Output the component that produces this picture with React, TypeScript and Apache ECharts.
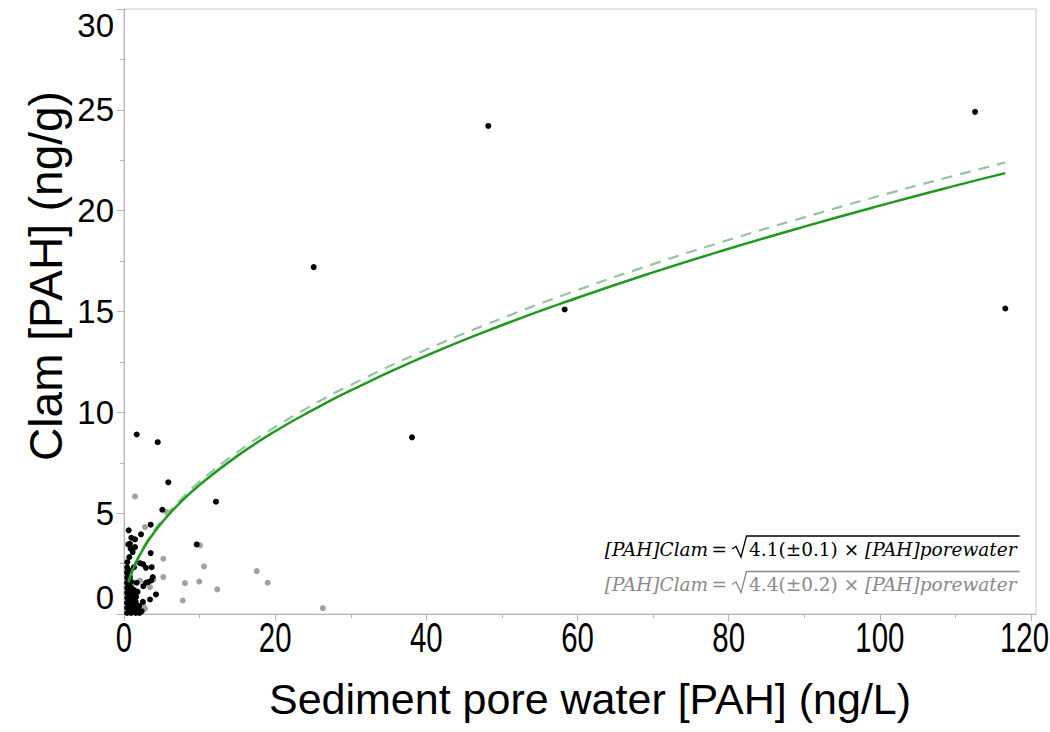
import React, { useEffect, useRef } from "react";
import * as echarts from "echarts";

const xTickValues = [0, 20, 40, 60, 80, 100, 120];
const yTickValues = [0, 5, 10, 15, 20, 25, 30];

const xTitle = "Sediment pore water [PAH] (ng/L)";
const yTitle = "Clam [PAH] (ng/g)";

// black points (x: pore water, y: clam)
const blackPoints: [number, number][] = [
  [112.6, 24.9], [48.2, 24.2], [25.1, 17.2], [58.3, 15.1], [116.6, 15.15], [38.1, 8.76],
  [1.68, 8.9], [4.46, 8.52], [5.86, 6.53], [12.17, 5.57], [5.07, 5.17], [0.62, 4.15],
  [3.53, 4.43], [2.25, 3.95], [0.97, 3.78], [1.46, 3.7], [0.57, 3.45], [0.88, 3.24],
  [1.15, 3.07], [0.7, 2.82], [3.53, 3.02], [9.62, 3.45], [0.44, 2.57], [1.32, 2.32],
  [2.12, 2.52], [2.55, 2.46], [2.91, 2.29], [3.66, 2.32], [0.79, 1.83], [3.8, 1.83],
  [1.68, 1.55], [2.55, 1.38], [2.91, 1.55], [4.23, 0.97], [3.44, 0.72], [1.89, 0.26],
  [2.34, 0.14], [3.6, 1.66], [3.2, 1.58], [0.79, 3.48], [1.46, 3.32],
  [0.4, 0.05], [0.42, 0.3], [0.4, 0.55], [0.43, 0.8], [0.4, 1.05], [0.42, 1.3], [0.4, 1.55],
  [0.43, 1.8], [0.4, 2.05], [0.42, 2.3], [0.65, 0.15], [0.68, 0.4], [0.65, 0.65], [0.7, 0.9],
  [0.66, 1.15], [0.7, 1.4], [0.65, 1.65], [0.68, 1.9], [0.66, 2.15], [0.95, 0.05], [0.98, 0.3],
  [0.95, 0.55], [1.0, 0.8], [0.96, 1.05], [0.98, 1.3], [0.95, 1.6], [1.25, 0.15], [1.28, 0.4],
  [1.24, 0.65], [1.3, 0.95], [1.25, 1.2], [1.55, 0.05], [1.58, 0.3], [1.55, 0.6], [1.6, 0.85],
  [2.0, 0.4], [2.5, 0.6], [2.05, 0.05], [1.8, 1.1],
];

// grey points
const greyPoints: [number, number][] = [
  [1.46, 5.83], [2.78, 4.31], [5.2, 2.74], [10.58, 2.36], [5.2, 1.83], [3.88, 1.7],
  [8.07, 1.53], [9.96, 1.61], [12.34, 1.22], [7.77, 0.67], [17.56, 2.13], [19.01, 1.55],
  [2.78, 0.26], [3.44, 1.33], [1.46, 1.0], [1.15, 1.17], [2.12, 1.66], [26.3, 0.29],
  [10.05, 3.4], [5.64, 5.05], [1.0, 1.25], [1.55, 1.17], [2.55, 0.42], [1.2, 1.55],
];

// fitted curves
const fitX = [0.6, 1, 1.5, 2, 3, 4, 5, 7.5, 10, 15, 20, 25, 30, 40, 50, 60, 70, 80, 90, 100, 110, 116.6];
const fitSolidY = [1.57, 2.02, 2.48, 2.86, 3.51, 4.05, 4.53, 5.55, 6.4, 7.84, 9.06, 10.12, 11.09, 12.81, 14.32, 15.68, 16.94, 18.11, 19.21, 20.25, 21.24, 21.86];
const fitDashedY = [1.61, 2.07, 2.54, 2.93, 3.59, 4.15, 4.64, 5.68, 6.56, 8.03, 9.27, 10.37, 11.36, 13.11, 14.66, 16.06, 17.35, 18.55, 19.67, 20.74, 21.75, 22.39];

const eqLeft = "[PAH]Clam";
const eqRadicands = ["4.1(\u00B10.1) \u00D7 ", "4.4(\u00B10.2) \u00D7 "];
const eqRight = "[PAH]porewater";

const SERIF = "'DejaVu Serif', 'Liberation Serif', serif";
const SANS = "'Liberation Sans', Arial, sans-serif";

function measure(text: string, font: string): number {
  const c = document.createElement("canvas");
  const ctx = c.getContext("2d");
  if (!ctx) return text.length * 10;
  ctx.font = font;
  return ctx.measureText(text).width;
}

export default function App() {
  const ref = useRef<HTMLDivElement>(null);
  useEffect(() => {
    if (!ref.current) return;
    const chart = echarts.init(ref.current, undefined, { renderer: "svg" });
    const axisGrey = "#b4b4b4";
    const fs = 18.5;
    const eqColors = ["#000000", "#8a8a8a"];
    const eqY = [549, 584.5];

    const option: any = {
      animation: false,
      backgroundColor: "#ffffff",
      grid: { left: 124, right: 14, top: 9, bottom: 118, show: true, borderColor: "#c8c8c8", borderWidth: 1, outerBoundsMode: "none", containLabel: false },
      xAxis: {
        type: "value",
        min: 0,
        max: 120.66,
        interval: 20,
        splitLine: { show: false },
        axisLine: { show: true, onZero: false, lineStyle: { color: axisGrey, width: 1 } },
        axisTick: { show: true, length: 7, customValues: xTickValues, lineStyle: { color: axisGrey } },
        minorTick: { show: true, splitNumber: 2, length: 4, lineStyle: { color: axisGrey } },
        axisLabel: { show: false },
      },
      yAxis: {
        type: "value",
        min: 0,
        max: 30,
        interval: 5,
        splitLine: { show: false },
        axisLine: { show: true, onZero: false, lineStyle: { color: axisGrey, width: 1 } },
        axisTick: { show: true, length: 7, customValues: yTickValues, lineStyle: { color: axisGrey } },
        minorTick: { show: true, splitNumber: 2, length: 4, lineStyle: { color: axisGrey } },
        axisLabel: {
          customValues: yTickValues,
          fontFamily: SANS,
          fontSize: 33,
          color: "#000",
          margin: 10,
          verticalAlignMaxLabel: "top",
          verticalAlignMinLabel: "bottom",
        },
      },
      series: [
        {
          type: "scatter",
          data: greyPoints,
          symbol: "circle",
          symbolSize: 6,
          itemStyle: { color: "#a0a0a0", opacity: 1 },
          z: 2,
        },
        {
          type: "scatter",
          data: blackPoints,
          symbol: "circle",
          symbolSize: 6,
          itemStyle: { color: "#000000", opacity: 1 },
          z: 3,
        },
        {
          type: "line",
          data: fitX.map((x, i) => [x, fitDashedY[i]]),
          smooth: true,
          showSymbol: false,
          lineStyle: { color: "#94c4a2", width: 2.2, type: [11, 8] },
          z: 4,
        },
        {
          type: "line",
          data: fitX.map((x, i) => [x, fitSolidY[i]]),
          smooth: true,
          showSymbol: false,
          lineStyle: { color: "#1e9a1e", width: 2.5 },
          z: 5,
        },
      ],
    };
    chart.setOption(option);

    const graphics: any[] = [
      {
        type: "text",
        x: 46,
        y: 276,
        rotation: Math.PI / 2,
        style: { text: yTitle, font: `46px ${SANS}`, fill: "#000", align: "center", verticalAlign: "middle" },
      },
      {
        type: "text",
        x: 590,
        y: 699,
        style: { text: xTitle, font: `43px ${SANS}`, fill: "#000", align: "center", verticalAlign: "middle" },
      },
    ];
    const tickFont = `42px ${SANS}`;
    const tickScale = 0.7;
    xTickValues.forEach((v) => {
      const px = chart.convertToPixel({ xAxisIndex: 0 }, v) as number;
      const half = (measure(String(v), tickFont) * tickScale) / 2;
      const x = Math.min(px, 1049 - half);
      graphics.push({
        type: "text",
        x,
        y: 638,
        scaleX: tickScale,
        style: { text: String(v), font: tickFont, fill: "#000", align: "center", verticalAlign: "middle" },
      });
    });
    eqY.forEach((yc, i) => {
      const col = eqColors[i];
      const radX = 749;
      const w = measure(eqRadicands[i], `${fs}px ${SERIF}`) + measure(eqRight, `italic ${fs}px ${SERIF}`);
      const topY = yc - 13;
      graphics.push(
        {
          type: "text",
          x: 727,
          y: yc,
          style: {
            text: `{i|${eqLeft}} {n|=}`,
            align: "right",
            verticalAlign: "middle",
            rich: {
              i: { font: `italic ${fs}px ${SERIF}`, fill: col },
              n: { font: `${fs}px ${SERIF}`, fill: col },
            },
          },
        },
        {
          type: "polyline",
          shape: { points: [[732, yc], [736, yc - 2.5], [741, yc + 8], [746.5, topY], [radX + w + 3, topY]] },
          style: { stroke: col, lineWidth: 1.3, fill: null },
        },
        {
          type: "text",
          x: radX,
          y: yc,
          style: {
            text: `{n|${eqRadicands[i]}}{i|${eqRight}}`,
            align: "left",
            verticalAlign: "middle",
            rich: {
              i: { font: `italic ${fs}px ${SERIF}`, fill: col },
              n: { font: `${fs}px ${SERIF}`, fill: col },
            },
          },
        }
      );
    });
    chart.setOption({ graphic: graphics });
    return () => chart.dispose();
  }, []);
  return (
    <div
      ref={ref}
      style={{ position: "fixed", left: 0, top: 0, width: 1050, height: 732, background: "#fff" }}
    />
  );
}
